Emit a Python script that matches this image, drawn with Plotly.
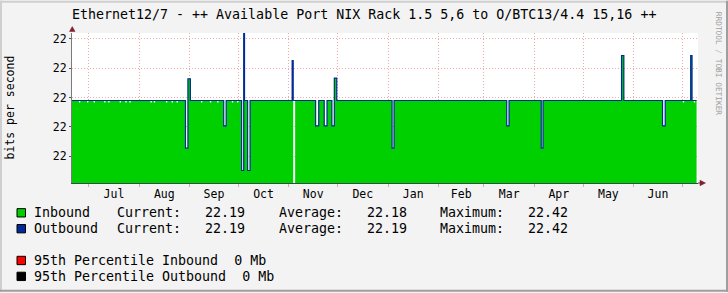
import plotly.graph_objects as go
import pandas as pd

# ---------------- data ----------------
title_text = "Ethernet12/7 - ++ Available Port NIX Rack 1.5 5,6 to O/BTC13/4.4 15,16 ++"
y_axis_title = "bits per second"

base_level = 22.19
data_start = "2022-06-20 17:00"
data_end = "2023-07-09 17:00"
x_range = ["2022-06-20 17:30", "2023-07-10 14:00"]

y_ticks = [22.0, 22.1, 22.2, 22.3, 22.4]
y_tick_labels = ["22", "22", "22", "22", "22"]
y_range = [21.9095, 22.4196]

# excursions from the base level (start, end, inbound value, outbound value)
event_start = [
    "2022-06-25 00:00", "2022-06-30 00:00", "2022-07-04 00:00", "2022-07-10 12:00",
    "2022-07-13 00:00", "2022-07-20 00:00", "2022-07-23 12:00", "2022-07-26 00:00",
    "2022-08-08 00:00", "2022-08-10 00:00", "2022-08-17 12:00", "2022-08-21 00:00",
    "2022-08-24 00:00",
    "2022-08-29 12:00", "2022-08-31 00:00",
    "2022-09-08 00:00", "2022-09-13 12:00", "2022-09-18 00:00",
    "2022-09-22 00:00",
    "2022-09-27 00:00", "2022-09-30 06:00",
    "2022-10-03 00:00", "2022-10-04 07:00", "2022-10-06 17:00",
    "2022-11-03 02:00", "2022-11-03 17:00",
    "2022-11-17 12:00", "2022-11-22 19:00", "2022-11-27 12:00", "2022-11-29 00:00",
    "2023-01-03 12:00", "2023-03-15 00:00", "2023-04-05 05:00",
    "2023-05-24 14:00", "2023-06-18 19:00",
    "2023-07-01 06:00", "2023-07-06 02:00", "2023-07-08 00:00",
]
event_end = [
    "2022-06-25 20:00", "2022-06-30 20:00", "2022-07-04 20:00", "2022-07-11 08:00",
    "2022-07-13 20:00", "2022-07-20 20:00", "2022-07-24 08:00", "2022-07-26 20:00",
    "2022-08-08 20:00", "2022-08-10 20:00", "2022-08-18 08:00", "2022-08-21 20:00",
    "2022-08-24 20:00",
    "2022-08-31 00:00", "2022-09-01 12:00",
    "2022-09-08 20:00", "2022-09-14 08:00", "2022-09-18 20:00",
    "2022-09-23 12:00",
    "2022-09-27 20:00", "2022-10-01 02:00",
    "2022-10-04 07:00", "2022-10-04 19:00", "2022-10-08 05:00",
    "2022-11-03 17:00", "2022-11-04 22:00",
    "2022-11-19 10:00", "2022-11-24 12:00", "2022-11-29 00:00", "2022-11-30 12:00",
    "2023-01-04 17:00", "2023-03-16 10:00", "2023-04-06 07:00",
    "2023-05-26 00:00", "2023-06-20 10:00",
    "2023-07-02 02:00", "2023-07-06 22:00", "2023-07-08 20:00",
]
event_in = [
    22.183, 22.183, 22.183, 22.183,
    22.183, 22.183, 22.183, 22.183,
    22.183, 22.183, 22.183, 22.183,
    22.183,
    22.028, 22.264,
    22.183, 22.183, 22.183,
    22.104,
    22.183, 22.183,
    21.952, 22.416, 21.952,
    22.326, None,
    22.104, 22.104, 22.104, 22.266,
    22.028, 22.104, 22.028,
    22.343, 22.104,
    22.183, 22.343, 22.183,
]
event_out = [
    22.19, 22.19, 22.19, 22.19,
    22.19, 22.19, 22.19, 22.19,
    22.19, 22.19, 22.19, 22.19,
    22.19,
    22.028, 22.264,
    22.19, 22.19, 22.19,
    22.104,
    22.19, 22.19,
    21.952, 22.42, 21.952,
    22.326, 22.19,
    22.104, 22.104, 22.104, 22.266,
    22.028, 22.104, 22.028,
    22.343, 22.104,
    22.19, 22.343, 22.19,
]

legend_rows = [
    ("Inbound", "Current:", "22.19", "Average:", "22.18", "Maximum:", "22.42"),
    ("Outbound", "Current:", "22.19", "Average:", "22.19", "Maximum:", "22.42"),
]
pct_rows = ["95th Percentile Inbound  0 Mb", "95th Percentile Outbound  0 Mb"]

# ---------------- styles ----------------
GREEN = "#00CF00"
BLUE = "#002A97"
RED = "#FF0000"
BLACK = "#000000"
BACK = "#F3F3F3"
GRID = "rgba(222,48,48,0.42)"
FONT = "DejaVu Sans Mono"

W, H = 728, 293
L, R, T, B = 72, 698, 32.5, 183.5


def X(p):
    return (p - L) / (R - L)


def Y(p):
    return (B - p) / (B - T)


def build(values):
    """Step series split into contiguous segments (a None value = no data)."""
    segs = []
    xs = [pd.Timestamp(data_start)]
    ys = [base_level]
    for s, e, v in sorted(zip(event_start, event_end, values), key=lambda t: t[0]):
        s, e = pd.Timestamp(s), pd.Timestamp(e)
        if v is None:
            xs.append(s)
            ys.append(base_level)
            segs.append((xs, ys))
            xs, ys = [e], [base_level]
        else:
            xs += [s, e]
            ys += [v, base_level]
    xs.append(pd.Timestamp(data_end))
    ys.append(base_level)
    segs.append((xs, ys))
    return segs


fig = go.Figure()
for sx, sy in build(event_in):
    fig.add_trace(go.Scatter(x=sx, y=sy, mode="lines", line=dict(width=0, shape="hv", color=GREEN),
                             fill="tozeroy", fillcolor=GREEN, hoverinfo="skip"))
for sx, sy in build(event_out):
    fig.add_trace(go.Scatter(x=sx, y=sy, mode="lines", line=dict(width=1.2, shape="hv", color=BLUE),
                             hoverinfo="skip"))

annotations = []
annotations.append(dict(text=title_text, x=X(69.5), y=Y(13.5), xref="paper", yref="paper",
                        xanchor="left", yanchor="middle", showarrow=False,
                        font=dict(family=FONT, size=13.3, color=BLACK)))
annotations.append(dict(text=y_axis_title, x=X(10), y=Y(107.5), xref="paper", yref="paper",
                        xanchor="center", yanchor="middle", showarrow=False, textangle=-90,
                        font=dict(family=FONT, size=11.5, color=BLACK)))
annotations.append(dict(text="RRDTOOL / TOBI OETIKER", x=X(718), y=Y(63.5), xref="paper", yref="paper",
                        xanchor="center", yanchor="middle", showarrow=False, textangle=90,
                        font=dict(family=FONT, size=7.8, color="#A0A0A0")))

col_x = [32.4, 114.7, 202.7, 277.4, 364.6, 438.1, 526.1]
row_y = [213.5, 229.5]
for r, row in enumerate(legend_rows):
    for c, txt in enumerate(row):
        annotations.append(dict(text=txt, x=X(col_x[c]), y=Y(row_y[r]), xref="paper", yref="paper",
                                xanchor="left", yanchor="middle", showarrow=False,
                                font=dict(family=FONT, size=13.3, color=BLACK)))
pct_y = [261.5, 277.5]
for r, txt in enumerate(pct_rows):
    annotations.append(dict(text=txt.replace(" ", "&nbsp;"), x=X(32.4), y=Y(pct_y[r]), xref="paper", yref="paper",
                            xanchor="left", yanchor="middle", showarrow=False,
                            font=dict(family=FONT, size=13.3, color=BLACK)))

shapes = []
# legend boxes
box_colors = [GREEN, BLUE, RED, BLACK]
box_y = [213.5, 229.5, 261.5, 277.5]
for col, cy in zip(box_colors, box_y):
    shapes.append(dict(type="rect", xref="paper", yref="paper", x0=X(17), x1=X(25.5), y0=Y(cy + 4.2), y1=Y(cy - 4.2),
                       fillcolor=col, line=dict(color=BLACK, width=1)))
# arrows
shapes.append(dict(type="path", xref="paper", yref="paper",
                   path=f"M {X(69.5)},{Y(31)} L {X(75)},{Y(31)} L {X(72.25)},{Y(26)} Z",
                   fillcolor="#7F1F2F", line=dict(color="#7F1F2F", width=0.5)))
shapes.append(dict(type="line", xref="paper", yref="paper", x0=X(698), x1=X(701), y0=Y(183.5), y1=Y(183.5),
                   line=dict(color="#2C4D43", width=1)))
shapes.append(dict(type="path", xref="paper", yref="paper",
                   path=f"M {X(700)},{Y(180.7)} L {X(700)},{Y(186.3)} L {X(705.5)},{Y(183.5)} Z",
                   fillcolor="#7F1F2F", line=dict(color="#7F1F2F", width=0.5)))
# 3D frame
shapes.append(dict(type="rect", xref="paper", yref="paper", x0=X(0), x1=X(2), y0=Y(293), y1=Y(0),
                   fillcolor="#CFCFCF", line=dict(width=0)))
shapes.append(dict(type="rect", xref="paper", yref="paper", x0=X(0), x1=X(728), y0=Y(2), y1=Y(0),
                   fillcolor="#CFCFCF", line=dict(width=0)))
shapes.append(dict(type="rect", xref="paper", yref="paper", x0=X(726), x1=X(728), y0=Y(293), y1=Y(0),
                   fillcolor="#9E9E9E", line=dict(width=0)))
shapes.append(dict(type="rect", xref="paper", yref="paper", x0=X(0), x1=X(728), y0=Y(293), y1=Y(291),
                   fillcolor="#9E9E9E", line=dict(width=0)))

fig.update_layout(
    width=W, height=H,
    margin=dict(l=L, r=W - R, t=T, b=H - B, pad=0),
    paper_bgcolor=BACK, plot_bgcolor="#FFFFFF",
    showlegend=False,
    annotations=annotations,
    shapes=shapes,
    xaxis=dict(type="date", range=x_range, dtick="M1", tick0="2022-07-01", ticklabelmode="period",
               tickformat="%b", showgrid=True, gridcolor=GRID, griddash="1px,2px", gridwidth=1,
               ticks="outside", ticklen=3, tickcolor=GRID, showline=True, linecolor="#2C4D43", linewidth=1,
               zeroline=False, fixedrange=True, ticklabelstandoff=-3,
               tickfont=dict(family=FONT, size=11.5, color=BLACK)),
    yaxis=dict(range=y_range, tickvals=y_ticks, ticktext=y_tick_labels, showgrid=True, gridcolor=GRID,
               griddash="1px,2px", gridwidth=1, ticks="outside", ticklen=2, tickcolor="#555555",
               showline=True, linecolor="#7A7A7A", linewidth=1, zeroline=False, fixedrange=True,
               tickfont=dict(family=FONT, size=11.5, color=BLACK)),
)

fig.write_html("out.html")
